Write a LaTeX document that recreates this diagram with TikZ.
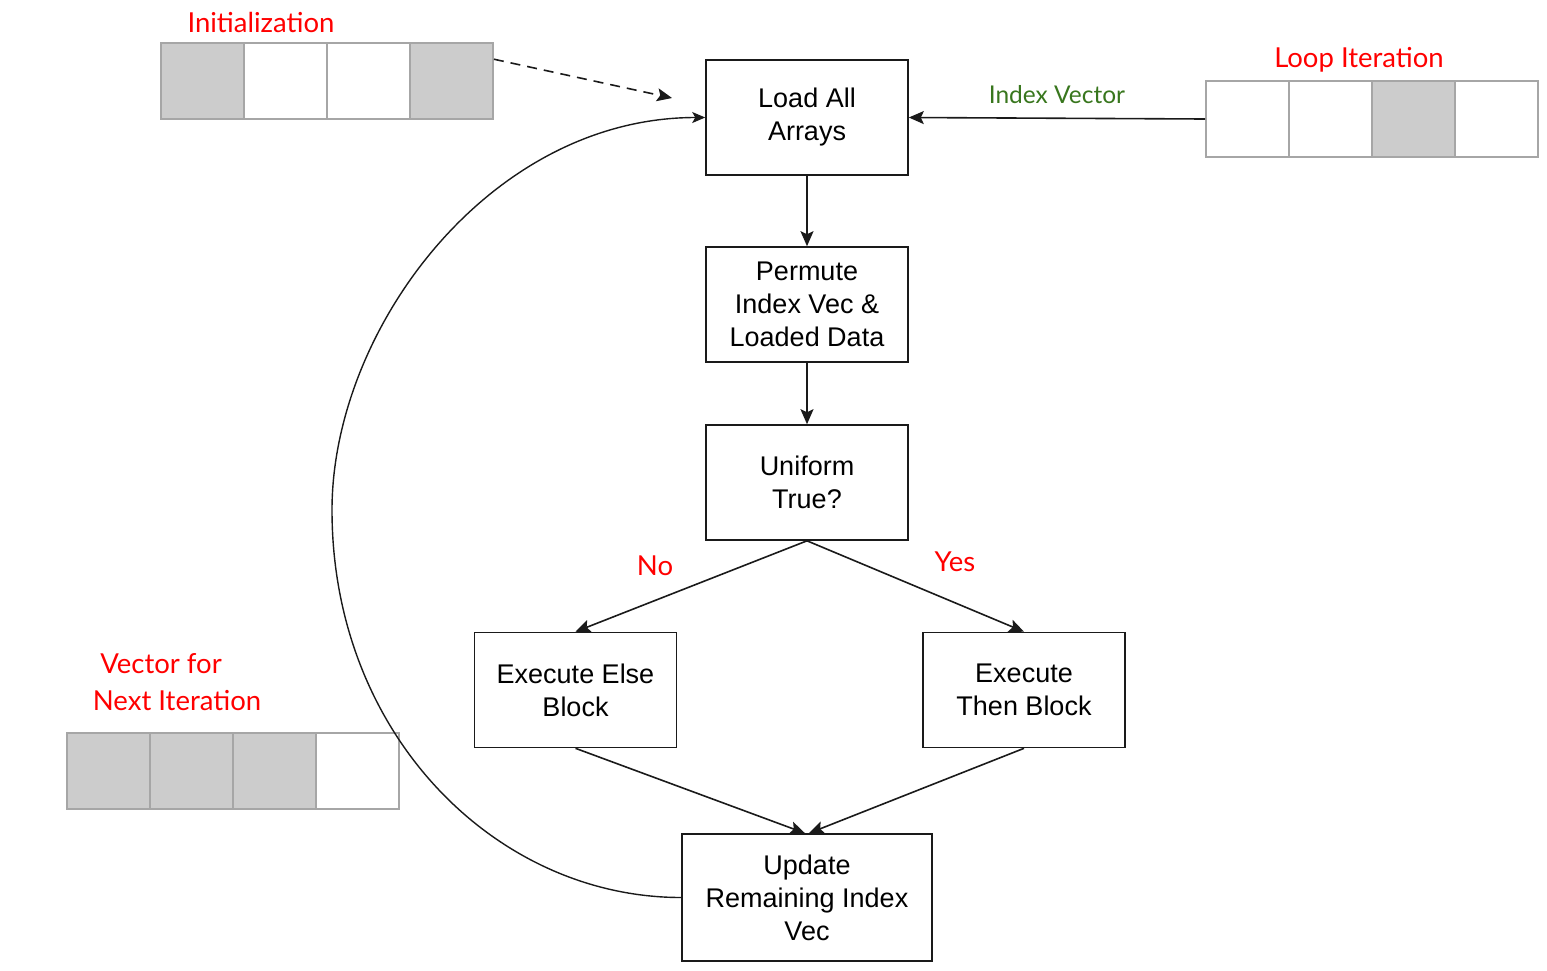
\documentclass[tikz,border=0pt]{standalone}
\usepackage{fontspec}
\setmainfont{Liberation Sans}
\newfontfamily\latofont{Lato}
\usetikzlibrary{positioning,arrows.meta,calc}
\definecolor{lblRed}{HTML}{FF0000}
\definecolor{lblGreen}{HTML}{38761D}
\definecolor{cellGray}{HTML}{CCCCCC}
\definecolor{cellLine}{HTML}{A6A6A6}
\definecolor{flowInk}{HTML}{1A1A1A}

\begin{document}
\begin{tikzpicture}[x=1pt,y=-1pt,
          box/.style={rectangle, draw=flowInk, line width=1.6pt, fill=white,
                      minimum width=202pt, minimum height=115pt, inner sep=0pt,
                      align=center, font=\fontsize{27}{33}\selectfont},
          cell/.style={rectangle, draw=cellLine, line width=1.8pt,
                       minimum width=83pt, minimum height=76pt, inner sep=0pt},
          lbl/.style={text=lblRed, inner sep=0pt, font=\latofont\fontsize{27.5}{33}\selectfont},
          arr/.style={-{Stealth[length=15pt,width=13pt,inset=3pt]}, flowInk, line width=1.6pt}]
        \useasboundingbox (0,0) rectangle (1547,970);
        % flow boxes
        \node[box] (load) at (807,117.5) {Load All\\Arrays};
        \node[box] (perm) at (807,304.5) {Permute\\Index Vec \&\\Loaded Data};
        \node[box] (unif) at (807,482.5) {Uniform\\True?};
        \node[box] (else) at (575.5,690) {Execute Else\\Block};
        \node[box] (then) at (1024,690)  {Execute\\Then Block};
        \node[box, minimum width=250pt, minimum height=127pt] (upd) at (807,897.5)
             {Update\\Remaining Index\\Vec};
        % index vectors
        \foreach \f [count=\i] in {cellGray,white,white,cellGray}
          \node[cell, fill=\f] (init\i) at ({202.5+83*(\i-1)},81) {};
        \foreach \f [count=\i] in {white,white,cellGray,white}
          \node[cell, fill=\f] (loop\i) at ({1247.5+83*(\i-1)},119) {};
        \foreach \f [count=\i] in {cellGray,cellGray,cellGray,white}
          \node[cell, fill=\f] (next\i) at ({108.5+83*(\i-1)},771) {};
        % labels
        \node[lbl] (initlbl) at (261,22)  {Initialization};
        \node[lbl] (looplbl) at (1359,60) {Loop Iteration};
        \node[lbl] (nextlbl) at (161,664) {Vector for};
        \node[lbl] (nextlbl2) at (177,701) {Next Iteration};
        \node[lbl] (nolbl)  at (655,566) {No};
        \node[lbl] (yeslbl) at (955,562) {Yes};
        % connectors
        \coordinate (initend) at (672,98);
        \coordinate (loopleft) at (332,510);
        \draw[arr, dash pattern=on 10pt off 7pt] ($(init4.north east)!0.22!(init4.south east)$) -- (initend);
        \draw[arr] (loop1.west) -- node[midway, above=14pt, text=lblGreen, inner sep=0pt,
                   font=\latofont\fontsize{24.5}{29}\selectfont] (idxlbl) {Index Vector} (load.east);
        \draw[arr] (load) -- (perm);
        \draw[arr] (perm) -- (unif);
        \draw[arr] (unif.south) -- (else.north);
        \draw[arr] (unif.south) -- (then.north);
        \draw[arr] (else.south) -- ([xshift=-2pt]upd.north);
        \draw[arr] (then.south) -- ([xshift=2pt]upd.north);
        \draw[arr, line width=1.4pt, -{Stealth[length=13pt,width=11pt,inset=3pt]}]
             (upd.west) .. controls +(-185,0) and +(0,225) .. (loopleft)
             .. controls +(0,-180) and +(-216,0) .. (load.west);
      \end{tikzpicture}
\end{document}
